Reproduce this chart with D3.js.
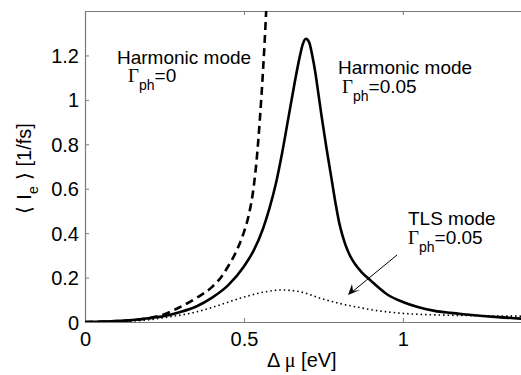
<!DOCTYPE html>
<html>
<head>
<meta charset="utf-8">
<script src="https://cdn.jsdelivr.net/npm/d3@7"></script>
<style>
body { margin: 0; background: #fff; }
text { font-family: "Liberation Sans", Arial, sans-serif; fill: #000; }
.axis path, .axis line { stroke: #7a7a7a; }
</style>
</head>
<body>
<svg id="mainsvg"></svg>
<script>
// harmonic mode, gamma_ph = 0.05 (solid)
let harmX = [0, 0.1, 0.2, 0.25, 0.3, 0.35, 0.4, 0.45, 0.5, 0.53, 0.56, 0.58, 0.6, 0.62, 0.64, 0.66, 0.675, 0.685, 0.695,
             0.705, 0.715, 0.725, 0.735, 0.745, 0.76, 0.775, 0.79, 0.8, 0.81, 0.82, 0.835, 0.85, 0.87, 0.9, 0.95, 1.0, 1.05, 1.1, 1.15, 1.2, 1.3, 1.4];
let harmY = [0, 0.004, 0.017, 0.027, 0.045, 0.07, 0.11, 0.165, 0.25, 0.32, 0.42, 0.51, 0.62, 0.76, 0.92, 1.08, 1.19, 1.25, 1.275,
             1.26, 1.2, 1.12, 1.02, 0.92, 0.78, 0.65, 0.52, 0.445, 0.39, 0.345, 0.295, 0.26, 0.225, 0.185, 0.125, 0.09, 0.066, 0.05, 0.041, 0.034, 0.022, 0.013];
// harmonic mode, gamma_ph = 0 (dashed)
let freeX = [0, 0.1, 0.2, 0.25, 0.3, 0.35, 0.4, 0.43, 0.45, 0.475, 0.5, 0.515, 0.53, 0.54, 0.55, 0.56, 0.57, 0.575];
let freeY = [0, 0.004, 0.017, 0.035, 0.068, 0.108, 0.158, 0.205, 0.25, 0.315, 0.405, 0.48, 0.6, 0.73, 0.91, 1.13, 1.4, 1.56];
// TLS mode, gamma_ph = 0.05 (dotted)
let tlsX = [0, 0.1, 0.2, 0.27, 0.34, 0.41, 0.49, 0.52, 0.56, 0.62, 0.68, 0.74, 0.8, 0.86, 0.93, 1.0, 1.1, 1.2, 1.3, 1.4];
let tlsY = [0, 0.002, 0.01, 0.024, 0.042, 0.07, 0.108, 0.12, 0.134, 0.144, 0.135, 0.107, 0.084, 0.066, 0.049, 0.039, 0.032, 0.029, 0.027, 0.026];

let xTicks = [0, 0.5, 1];
let yTicks = [0, 0.2, 0.4, 0.6, 0.8, 1, 1.2];

let mainsvg = d3.select("#mainsvg"),
    svgWidth = 521,
    svgHeight = 375,
    margin = {top: 11, left: 85},
    width = 445,
    height = 311,
    scaleX = d3.scaleLinear().domain([0, 1.4]).range([0, width]),
    scaleY = d3.scaleLinear().domain([0, 1.4]).range([height, 0]);

mainsvg.attr("width", svgWidth).attr("height", svgHeight);
mainsvg.append("rect").attr("width", svgWidth).attr("height", svgHeight).attr("fill", "#fff");

let mainGroup = mainsvg.append("g").attr("transform", `translate(${margin.left}, ${margin.top})`);

mainGroup.append("clipPath").attr("id", "clip")
    .append("rect").attr("width", width).attr("height", height);

let fmt = d => String(+d.toFixed(1));

// frame lines + inner ticks
mainGroup.append("g")
    .attr("class", "axis")
    .attr("transform", `translate(0,${height})`)
    .call(d3.axisBottom(scaleX).tickValues(xTicks).tickSizeInner(-4).tickSizeOuter(0).tickPadding(10).tickFormat(fmt))
    .call(g => g.selectAll("text").attr("font-size", 20).attr("dy", "0.71em"));

mainGroup.append("g")
    .attr("class", "axis")
    .call(d3.axisTop(scaleX).tickValues(xTicks).tickSizeInner(-4).tickSizeOuter(0).tickFormat(""));

mainGroup.append("g")
    .attr("class", "axis")
    .call(d3.axisLeft(scaleY).tickValues(yTicks).tickSizeInner(-4).tickSizeOuter(0).tickPadding(6).tickFormat(fmt))
    .call(g => g.selectAll("text").attr("font-size", 20).attr("dy", "0.35em"));

mainGroup.selectAll(".axis path.domain").attr("stroke-width", 1.2);

let line = d3.line()
    .x(d => scaleX(d[0]))
    .y(d => scaleY(d[1]))
    .curve(d3.curveMonotoneX);

let curves = mainGroup.append("g").attr("clip-path", "url(#clip)");

curves.append("path")
    .datum(d3.zip(tlsX, tlsY))
    .attr("d", line)
    .attr("fill", "none").attr("stroke", "#000")
    .attr("stroke-width", 1.6).attr("stroke-dasharray", "1.5,3");

curves.append("path")
    .datum(d3.zip(freeX, freeY))
    .attr("d", line)
    .attr("fill", "none").attr("stroke", "#000")
    .attr("stroke-width", 2.6).attr("stroke-dasharray", "8,5");

curves.append("path")
    .datum(d3.zip(harmX, harmY))
    .attr("d", line)
    .attr("fill", "none").attr("stroke", "#000")
    .attr("stroke-width", 2.6);

// annotations
function label(x, y, title, gx, gy, value) {
    mainsvg.append("text").attr("x", x).attr("y", y).attr("font-size", 19).text(title);
    let t = mainsvg.append("text").attr("x", gx).attr("y", gy).attr("font-size", 19);
    t.append("tspan").attr("font-family", "Liberation Serif, serif").text("Γ");
    t.append("tspan").attr("font-size", 14).attr("dy", 8).text("ph");
    t.append("tspan").attr("dy", -8).text("=" + value);
}
label(117, 64, "Harmonic mode", 128, 82, "0");
label(338, 74, "Harmonic mode", 342, 93, "0.05");
label(408, 225, "TLS mode", 408, 244, "0.05");

// arrow to TLS curve
mainsvg.append("line")
    .attr("x1", 397).attr("y1", 255).attr("x2", 352).attr("y2", 292)
    .attr("stroke", "#000").attr("stroke-width", 1);
mainsvg.append("path")
    .attr("d", "M348,295 L352,284 L353,291 L360,290 Z")
    .attr("fill", "#000");

// axis titles
let xl = mainsvg.append("text").attr("x", 267).attr("y", 367).attr("font-size", 20);
xl.append("tspan").text("Δ ");
xl.append("tspan").attr("font-family", "Liberation Serif, serif").text("μ");
xl.append("tspan").text(" [eV]");

let yl = mainsvg.append("text")
    .attr("transform", "translate(31,214) rotate(-90)")
    .attr("font-size", 20);
yl.append("tspan").attr("font-family", "DejaVu Sans, sans-serif").attr("font-weight", 200).text("⟨ ");
yl.append("tspan").text("I");
yl.append("tspan").attr("font-size", 14).attr("dy", 7).text("e");
yl.append("tspan").attr("dy", -7).attr("font-family", "DejaVu Sans, sans-serif").text(" ⟩");
yl.append("tspan").text(" [1/fs]");
</script>
</body>
</html>
